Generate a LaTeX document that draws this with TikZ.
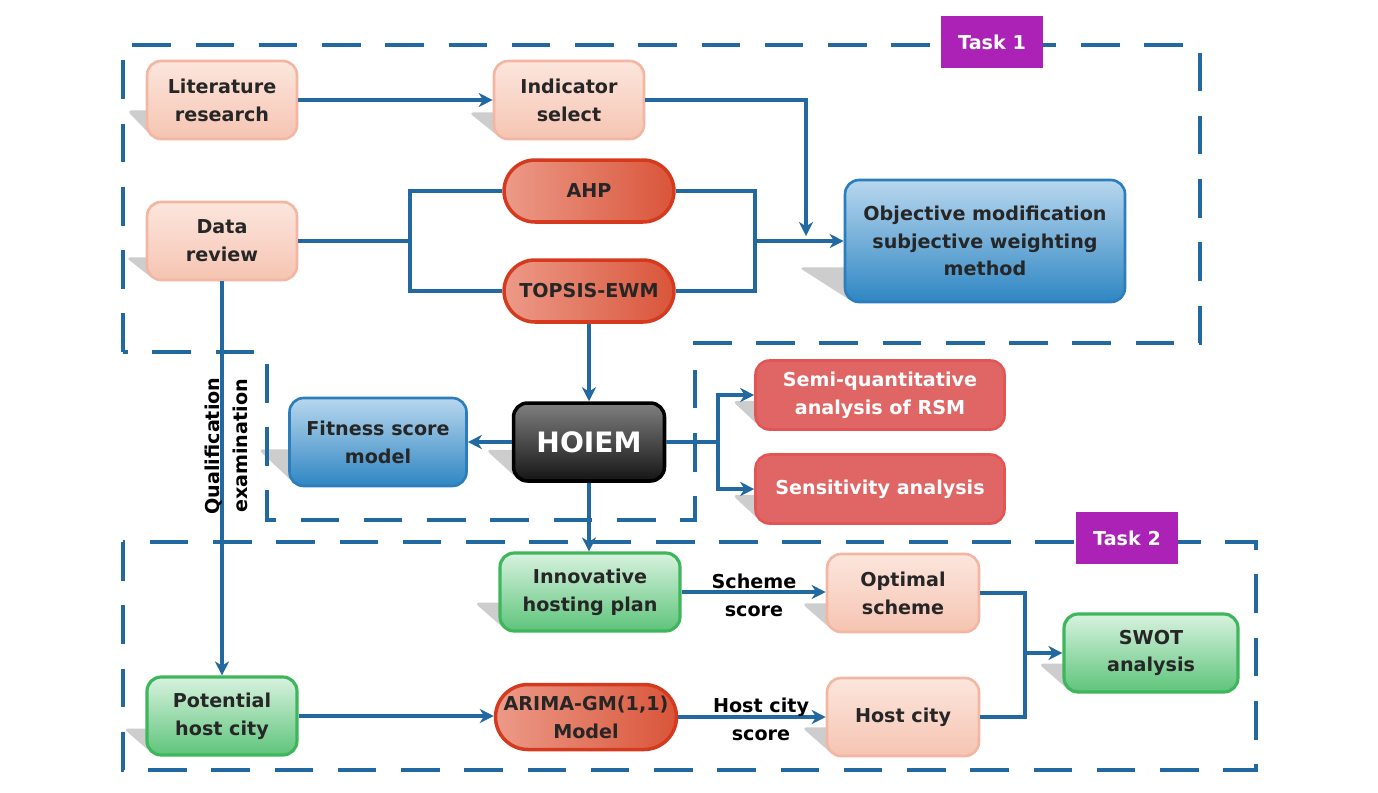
\documentclass[tikz,border=0pt]{standalone}
\usepackage{fontspec}
\setmainfont{DejaVu Sans}
\usetikzlibrary{arrows.meta, shapes.misc, backgrounds, calc}
\definecolor{flow-blue}{HTML}{2268A1}
\definecolor{ink}{HTML}{262626}
\definecolor{pink-top}{HTML}{FCE6DD}
\definecolor{pink-bot}{HTML}{F6C4B2}
\definecolor{pink-line}{HTML}{F3B6A2}
\definecolor{pill-light}{HTML}{EC9A88}
\definecolor{pill-dark}{HTML}{D9553A}
\definecolor{pill-line}{HTML}{D63A1E}
\definecolor{blue-top}{HTML}{B8D7EE}
\definecolor{blue-mid}{HTML}{2F86C3}
\definecolor{blue-line}{HTML}{2B7DBC}
\definecolor{green-top}{HTML}{D8F2DF}
\definecolor{green-bot}{HTML}{5EC47B}
\definecolor{green-line}{HTML}{3EB65C}
\definecolor{rsm-red}{HTML}{E06666}
\definecolor{rsm-line}{HTML}{E35454}
\definecolor{task-purple}{HTML}{AC22B6}
\definecolor{shadow-grey}{HTML}{CDCDCD}

\tikzset{
  box/.style={align=center, font=\bfseries\fontsize{10.9}{15.8}\selectfont, text=ink,
    minimum width=3cm, minimum height=1.56cm, inner sep=2pt},
  pinkbox/.style={box, draw=pink-line, line width=1.5pt, rounded corners=8pt,
    top color=pink-top, middle color=pink-bot, bottom color=pink-bot},
  greenbox/.style={box, draw=green-line, line width=1.8pt, rounded corners=8pt,
    top color=green-top, middle color=green-bot!80, bottom color=green-bot},
  bluebox/.style={box, draw=blue-line, line width=1.5pt, rounded corners=8pt,
    top color=blue-top, middle color=blue-mid, bottom color=blue-mid},
  redpill/.style={box, rounded rectangle, draw=pill-line, line width=2pt,
    left color=pill-light, right color=pill-dark, minimum width=3.54cm, minimum height=1.24cm},
  rsmbox/.style={box, draw=rsm-line, line width=1.5pt, rounded corners=8pt, fill=rsm-red,
    text=white, minimum width=4.98cm, minimum height=1.38cm},
  blackbox/.style={box, draw=black, line width=2pt, rounded corners=8pt,
    top color=black!50, middle color=black!82, bottom color=black!92, text=white,
    font=\bfseries\fontsize{16}{18}\selectfont, minimum width=3.02cm, minimum height=1.56cm},
  tasktag/.style={fill=task-purple, text=white, font=\bfseries\fontsize{10.9}{12}\selectfont,
    minimum width=2.04cm, minimum height=1.04cm},
  taskframe/.style={draw=flow-blue, line width=2.8pt, dash pattern=on 22pt off 14pt},
  link/.style={draw=flow-blue, line width=2.2pt},
  arr/.style={link, -{Stealth[length=8pt, width=8pt, inset=2.5pt]}},
  edgelabel/.style={align=center, font=\bfseries\fontsize{10.9}{15.8}\selectfont, text=black, inner sep=0pt}
}

\begin{document}
\begin{tikzpicture}[x=0.02cm, y=-0.02cm]
  \useasboundingbox (0,0) rectangle (1378,792);

  % dashed task frames
  \draw[taskframe] (123,352) -- (123,45) -- (1200,45) -- (1200,343) -- (695,343)
    -- (695,520) -- (267,520) -- (267,352) -- cycle;
  \draw[taskframe] (123,542) rectangle (1256,770);

  % task 1
  \node[pinkbox] (lit) at (222,100) {Literature\\research};
  \node[pinkbox] (ind) at (569,100) {Indicator\\select};
  \node[pinkbox] (data) at (222,241) {Data\\review};
  \node[redpill] (ahp) at (589,191) {AHP};
  \node[redpill] (tops) at (589,291) {TOPSIS-EWM};
  \node[bluebox, minimum width=5.6cm, minimum height=2.44cm] (obj) at (985,241)
    {Objective modification\\subjective weighting\\method};
  \node[tasktag] (t1) at (992,42) {Task 1};

  % model
  \node[blackbox] (hoiem) at (589,442) {HOIEM};
  \node[bluebox, minimum width=3.54cm, minimum height=1.76cm] (fit) at (378,442)
    {Fitness score\\model};
  \node[rsmbox] (semi) at (880,395) {Semi-quantitative\\analysis of RSM};
  \node[rsmbox] (sens) at (880,489) {Sensitivity analysis};

  % task 2
  \node[tasktag] (t2) at (1127,538) {Task 2};
  \node[greenbox, minimum width=3.6cm] (inno) at (590,592) {Innovative\\hosting plan};
  \node[pinkbox, minimum width=3.04cm] (opt) at (903,593) {Optimal\\scheme};
  \node[greenbox, minimum width=3.48cm] (swot) at (1151,653) {SWOT\\analysis};
  \node[greenbox] (pot) at (222,716) {Potential\\host city};
  \node[redpill, minimum width=3.76cm, minimum height=1.3cm] (arima) at (586,717)
    {ARIMA-GM(1,1)\\Model};
  \node[pinkbox, minimum width=3.04cm] (host) at (903,717) {Host city};

  % shadows
  \begin{scope}[on background layer]
    \foreach \n/\d/\h in {lit/19/30, ind/24/28, data/20/24, ahp/24/26, tops/24/26,
        obj/45/36, fit/30/38, hoiem/26/33, semi/22/30, sens/22/30, inno/24/30,
        opt/24/30, swot/24/30, pot/22/28, arima/24/26, host/24/30}
      \fill[shadow-grey, rounded corners=3pt] ($(\n.south west)+(-\d,-\h)$)
        -- ($(\n.south west)+(8,-\h)$) -- ($(\n.south west)+(8,-2)$) -- cycle;
  \end{scope}

  % junctions
  \coordinate (sp1) at (410,241);
  \coordinate (mg1) at (755,241);
  \coordinate (jA) at (806,236);
  \coordinate (sp2) at (718,442);
  \coordinate (mg2) at (1025,653);

  \draw[arr] (lit) -- (ind);
  \draw[arr] (ind.east) -| (jA);
  \draw[link] (data.east) -- (sp1);
  \draw[link] (ahp.west) -| (sp1) |- (tops.west);
  \draw[link] (ahp.east) -| (mg1) |- (tops.east);
  \draw[arr] (mg1) -- (obj.west);
  \draw[arr] (tops.south) -- (hoiem.north);
  \draw[arr] (hoiem.west) -- (fit.east);
  \draw[link] (hoiem.east) -- (sp2);
  \draw[arr] (sp2) |- (semi.west);
  \draw[arr] (sp2) |- (sens.west);
  \draw[arr] (hoiem.south) -- (hoiem.south |- inno.north);
  \draw[arr] (data.south) -- (pot.north);
  \draw[arr] (pot.east) -- (pot.east -| arima.west);
  \draw[arr] (inno.east) -- (inno.east -| opt.west);
  \draw[arr] (arima.east) -- (arima.east -| host.west);
  \draw[link] (opt.east) -| (mg2) |- (host.east);
  \draw[arr] (mg2) -- (swot.west);

  % connector labels
  \node[edgelabel, rotate=90] (qual) at (226,446) {Qualification\\examination};
  \node[edgelabel] (schlab) at (754,595) {Scheme\\score};
  \node[edgelabel] (hostlab) at (761,719) {Host city\\score};
\end{tikzpicture}
\end{document}
